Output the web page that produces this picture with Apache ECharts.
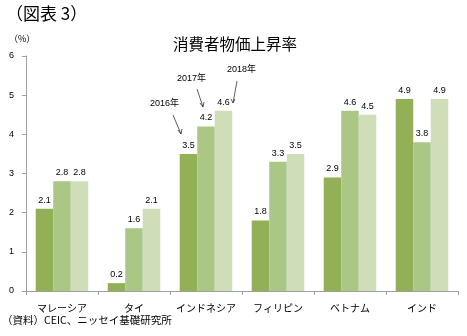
<!DOCTYPE html>
<html><head><meta charset="utf-8">
<script src="https://cdn.jsdelivr.net/npm/echarts@6/dist/echarts.min.js"></script>
<style>html,body{margin:0;padding:0;background:#fff}#c{width:467px;height:336px}</style>
</head><body><div id="c"></div>
<script>
const categories = ['マレーシア','タイ','インドネシア','フィリピン','ベトナム','インド'];
const years = ['2016年','2017年','2018年'];
const v2016 = [2.1, 0.2, 3.5, 1.8, 2.9, 4.9];
const v2017 = [2.8, 1.6, 4.2, 3.3, 4.6, 3.8];
const v2018 = [2.8, 2.1, 4.6, 3.5, 4.5, 4.9];
const yTicks = [0,1,2,3,4,5,6];
const colors = ['#92b055','#abc785','#cfdeb9'];
const font = '"Liberation Sans","Noto Sans CJK JP",sans-serif';
const chart = echarts.init(document.getElementById('c'));
const mk = (name, data, i) => ({
  name, type:'bar', data, barGap:'0%', barCategoryGap:'27%',
  itemStyle:{color:colors[i]},
  label:{show:true, position:'top', distance:4, color:'#000', fontSize:9, fontFamily:font, formatter:p=>p.value.toFixed(1)}
});
chart.setOption({
  animation:false,
  textStyle:{fontFamily:font},
  grid:{left:26, right:9, top:56, bottom:45},
  xAxis:{type:'category', data:categories,
    axisLine:{lineStyle:{color:'#a0a0a0'}},
    axisTick:{show:true, length:4, lineStyle:{color:'#a0a0a0'}},
    axisLabel:{color:'#000', fontSize:10, margin:12, interval:0, fontFamily:'"Noto Sans CJK JP",sans-serif'}},
  yAxis:{type:'value', min:yTicks[0], max:yTicks[yTicks.length-1], interval:1,
    axisLine:{show:true, lineStyle:{color:'#a0a0a0'}},
    axisTick:{show:true, length:4, lineStyle:{color:'#a0a0a0'}},
    splitLine:{show:false},
    axisLabel:{color:'#000', fontSize:9, margin:12, fontFamily:font}},
  series:[mk(years[0],v2016,0), mk(years[1],v2017,1), mk(years[2],v2018,2)],
  graphic:[
    {type:'text', left:6, top:5, style:{text:'（図表 3）', fill:'#000', font:'17px "Noto Sans CJK JP"'}},
    {type:'text', left:9, top:34, style:{text:'（%）', fill:'#000', font:'9px "Noto Sans CJK JP"'}},
    {type:'text', left:173, top:36, style:{text:'消費者物価上昇率', fill:'#000', font:'15.5px "Noto Sans CJK JP"'}},
    {type:'text', left:2, top:315, style:{text:'（資料）CEIC、ニッセイ基礎研究所', fill:'#000', font:'10.5px "Noto Sans CJK JP"'}},
    {type:'text', left:150, top:99, style:{text:years[0], fill:'#000', font:'9px "Liberation Sans","Noto Sans CJK JP"'}},
    {type:'text', left:177, top:74, style:{text:years[1], fill:'#000', font:'9px "Liberation Sans","Noto Sans CJK JP"'}},
    {type:'text', left:227, top:65, style:{text:years[2], fill:'#000', font:'9px "Liberation Sans","Noto Sans CJK JP"'}},
    {type:'polyline', shape:{points:[[173,115],[181,134]]}, style:{stroke:'#333', lineWidth:0.8, fill:null}},
    {type:'polyline', shape:{points:[[178,130],[181,134],[182,129]]}, style:{stroke:'#333', lineWidth:0.8, fill:null}},
    {type:'polyline', shape:{points:[[197,89],[203,107]]}, style:{stroke:'#333', lineWidth:0.8, fill:null}},
    {type:'polyline', shape:{points:[[200,103],[203,107],[204,102]]}, style:{stroke:'#333', lineWidth:0.8, fill:null}},
    {type:'polyline', shape:{points:[[237,81],[233,103]]}, style:{stroke:'#333', lineWidth:0.8, fill:null}},
    {type:'polyline', shape:{points:[[231,99],[233,103],[235,99]]}, style:{stroke:'#333', lineWidth:0.8, fill:null}}
  ]
});
</script></body></html>
